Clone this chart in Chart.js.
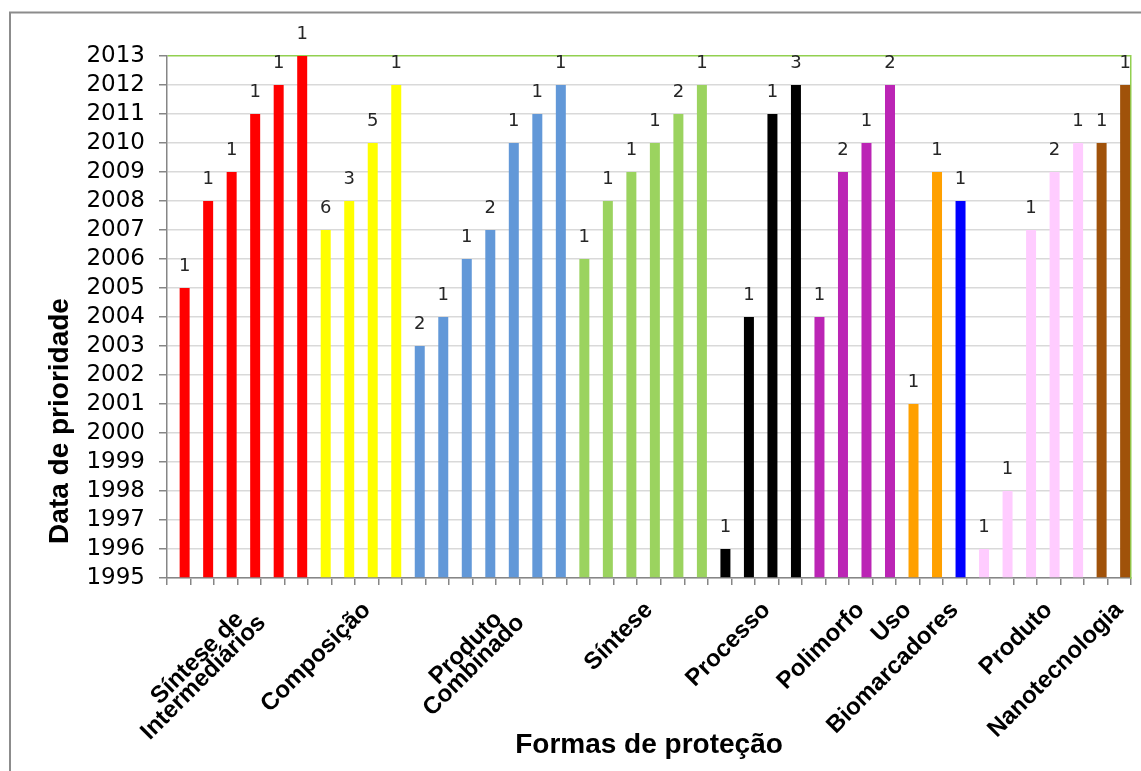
<!DOCTYPE html>
<html>
<head>
<meta charset="utf-8">
<script src="https://cdn.jsdelivr.net/npm/chart.js@4.4.1/dist/chart.umd.min.js"></script>
<style>
    html, body { margin: 0; padding: 0; background: #fff; }
</style>
</head>
<body>
<canvas id="chart" width="1141" height="771"></canvas>
<script>
// one entry per group of bars ("forma de proteção")
const GROUP_LABELS = [
    ["Síntese de  ", "Intermediários"], "Composição", ["Produto  ", "Combinado"], "Síntese",
    "Processo", "Polimorfo", "Uso", "Biomarcadores", "Produto", "Nanotecnologia",
];
const GROUP_COLORS = [
    "#FF0000", "#FFFF00", "#6298D8", "#9BD35F", "#000000",
    "#BB25B5", "#FFA000", "#0000FF", "#FFCCFF", "#A0520A",
];
// priority year of each bar, per group
const GROUP_YEARS = [
    [2005, 2008, 2009, 2011, 2012, 2013],
    [2007, 2008, 2010, 2012],
    [2003, 2004, 2006, 2007, 2010, 2011, 2012],
    [2006, 2008, 2009, 2010, 2011, 2012],
    [1996, 2004, 2011, 2012],
    [2004, 2009, 2010, 2012],
    [2001, 2009],
    [2008],
    [1996, 1998, 2007, 2009, 2010],
    [2010, 2012],
];
// number of documents written above each bar
const GROUP_COUNTS = [
    [1, 1, 1, 1, 1, 1],
    [6, 3, 5, 1],
    [2, 1, 1, 2, 1, 1, 1],
    [1, 1, 1, 1, 2, 1],
    [1, 1, 1, 3],
    [1, 2, 1, 2],
    [1, 1],
    [1],
    [1, 1, 1, 2, 1],
    [1, 1],
];
// which bar of the group carries the group's tick label
const GROUP_LABEL_AT = [3, 2, 4, 3, 2, 2, 0, 0, 3, 1];

const Y_MIN = 1995;
const Y_MAX = 2013;

const tickLabels = [];
const barYears = [];
const barCounts = [];
const barColors = [];
GROUP_YEARS.forEach((years, g) => {
    years.forEach((y, i) => {
        tickLabels.push(i === GROUP_LABEL_AT[g] ? GROUP_LABELS[g] : "");
        barYears.push(y);
        barCounts.push(GROUP_COUNTS[g][i]);
        barColors.push(GROUP_COLORS[g]);
    });
});

const FONT = "'Liberation Sans', Arial, sans-serif";

const frame = {
    id: "frame",
    beforeDraw(chart) {
        const ctx = chart.ctx;
        ctx.save();
        ctx.fillStyle = "#fff";
        ctx.fillRect(0, 0, chart.width, chart.height);
        ctx.strokeStyle = "#8c8c8c";
        ctx.lineWidth = 2;
        ctx.strokeRect(10, 12.5, 1200, 800);
        ctx.restore();
    },
    afterDraw(chart) {
        const ctx = chart.ctx;
        ctx.save();
        ctx.translate(68, 421);
        ctx.rotate(-Math.PI / 2);
        ctx.font = "bold 28px " + FONT;
        ctx.fillStyle = "#000";
        ctx.textAlign = "center";
        ctx.textBaseline = "alphabetic";
        ctx.fillText("Data de prioridade", 0, 0);
        ctx.restore();
    },
};

const countLabels = {
    id: "countLabels",
    afterDatasetsDraw(chart) {
        const meta = chart.getDatasetMeta(1);
        const ctx = chart.ctx;
        ctx.save();
        ctx.font = "18px 'DejaVu Sans', sans-serif";
        ctx.fillStyle = "#262626";
        ctx.textAlign = "center";
        ctx.textBaseline = "alphabetic";
        meta.data.forEach((bar, i) => {
            ctx.fillText(String(barCounts[i]), bar.x, bar.y - 17);
        });
        ctx.restore();
    },
};

new Chart(document.getElementById("chart"), {
    type: "bar",
    data: {
        labels: tickLabels,
        datasets: [
            {
                label: "",
                data: tickLabels.map(() => null),
                categoryPercentage: 1,
                barPercentage: 0.85,
            },
            {
                label: "Data de prioridade",
                data: barYears,
                base: Y_MIN,
                backgroundColor: barColors,
                borderWidth: 0,
                categoryPercentage: 1,
                barPercentage: 0.85,
            },
        ],
    },
    options: {
        responsive: false,
        animation: false,
        layout: { padding: { top: 56, right: 10, bottom: 0, left: 0 } },
        plugins: {
            legend: { display: false },
            tooltip: { enabled: false },
        },
        scales: {
            x: {
                offset: true,
                grid: { offset: true, drawOnChartArea: false, color: "#868686", tickLength: 7, lineWidth: 1.5 },
                border: { color: "#868686", width: 1.5 },
                ticks: {
                    autoSkip: false,
                    minRotation: 45,
                    maxRotation: 45,
                    padding: 15,
                    color: "#000",
                    font: { family: FONT, size: 24, weight: "bold", lineHeight: 0.75 },
                },
                title: {
                    display: true,
                    text: "Formas de proteção",
                    color: "#000",
                    font: { family: FONT, size: 28, weight: "bold" },
                    padding: { top: 0, bottom: 9 },
                },
                afterFit: s => {
                    s.height = 193;
                    s.paddingLeft = 0;
                    s.paddingRight = 0;
                },
            },
            y: {
                min: Y_MIN,
                max: Y_MAX,
                ticks: {
                    stepSize: 1,
                    autoSkip: false,
                    padding: 14,
                    color: "#000",
                    font: { family: "'DejaVu Sans', sans-serif", size: 23 },
                    callback: v => String(v),
                },
                grid: {
                    color: c => (c.tick && c.tick.value === Y_MAX ? "#92D050" : "#D9D9D9"),
                    tickColor: "#868686",
                    tickLength: 8,
                    lineWidth: 1.5,
                },
                border: { color: "#868686", width: 1.5 },
                afterFit: s => { s.width = 167; },
            },
            y2: {
                position: "right",
                display: true,
                grid: { drawOnChartArea: false, drawTicks: false },
                ticks: { display: false },
                border: { color: "#92D050", width: 1.5 },
                afterFit: s => { s.width = 0; },
            },
        },
    },
    plugins: [frame, countLabels],
});
</script>
</body>
</html>
